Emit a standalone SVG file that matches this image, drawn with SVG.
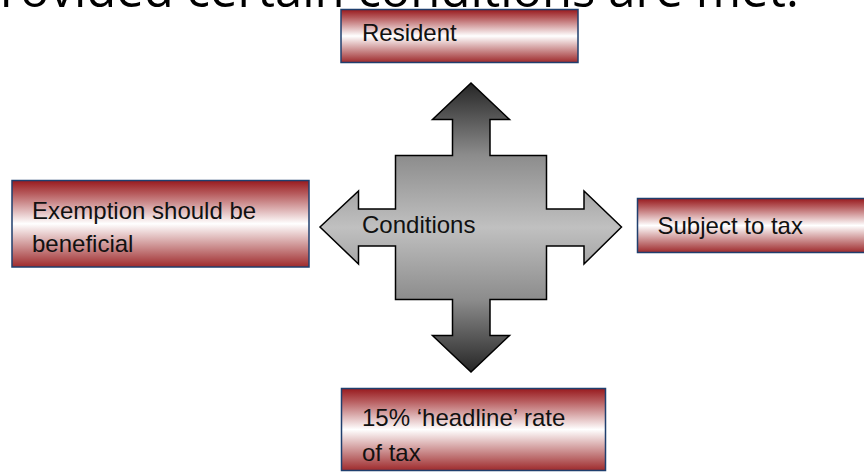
<svg xmlns="http://www.w3.org/2000/svg" width="864" height="473" viewBox="0 0 864 473">
<defs>
<linearGradient id="boxGrad" x1="0" y1="0" x2="0" y2="1">
<stop offset="0" stop-color="#981a1e"/>
<stop offset="0.15" stop-color="#b65a5c"/>
<stop offset="0.5" stop-color="#ffffff"/>
<stop offset="0.85" stop-color="#bb6a6b"/>
<stop offset="1" stop-color="#9e2a2c"/>
</linearGradient>
<linearGradient id="crossGrad" gradientUnits="userSpaceOnUse" x1="0" y1="83" x2="0" y2="372">
<stop offset="0" stop-color="#262626"/>
<stop offset="0.25" stop-color="#8c8c8c"/>
<stop offset="0.5" stop-color="#c0c0c0"/>
<stop offset="0.75" stop-color="#8c8c8c"/>
<stop offset="1" stop-color="#262626"/>
</linearGradient>
</defs>
<style>
.box{fill:url(#boxGrad);stroke:#1f3f6e;stroke-width:1.5}
.lbl{font-family:"Liberation Sans",Arial,sans-serif;font-size:24px;fill:#111}
.title{font-family:"Open Sans","Liberation Sans",sans-serif;font-size:49px;fill:#000}
</style>
<text class="title" x="0" y="7">rovided certain conditions are met.</text>
<g id="connectors"></g>
<g id="conditions">
<polygon points="471,83 509.5,119.5 490,119.5 490,155.5 546.5,155.5 546.5,209 584,209 584,191 621.5,227 584,264 584,246 546.5,246 546.5,299.5 490,299.5 490,335.5 509.5,335.5 471,372 432.5,335.5 452.5,335.5 452.5,299.5 395.5,299.5 395.5,246 358.5,246 358.5,264 320,227 358.5,191 358.5,209 395.5,209 395.5,155.5 452.5,155.5 452.5,119.5 432.5,119.5" fill="url(#crossGrad)" stroke="#000" stroke-width="1.5" stroke-linejoin="miter"/>
<text class="lbl" x="362" y="233">Conditions</text>
</g>
<g id="resident">
<rect class="box" x="341" y="9.5" width="237" height="53"/>
<text class="lbl" x="362" y="41">Resident</text>
</g>
<g id="exemption">
<rect class="box" x="12" y="180.5" width="297" height="86.5"/>
<text class="lbl" x="32" y="219">Exemption should be</text>
<text class="lbl" x="32" y="252">beneficial</text>
</g>
<g id="subject">
<rect class="box" x="637.5" y="198.5" width="230" height="54"/>
<text class="lbl" x="657.5" y="234">Subject to tax</text>
</g>
<g id="headline">
<rect class="box" x="341.5" y="388.5" width="264" height="82"/>
<text class="lbl" x="362" y="426">15% ‘headline’ rate</text>
<text class="lbl" x="362" y="461">of tax</text>
</g>
</svg>
